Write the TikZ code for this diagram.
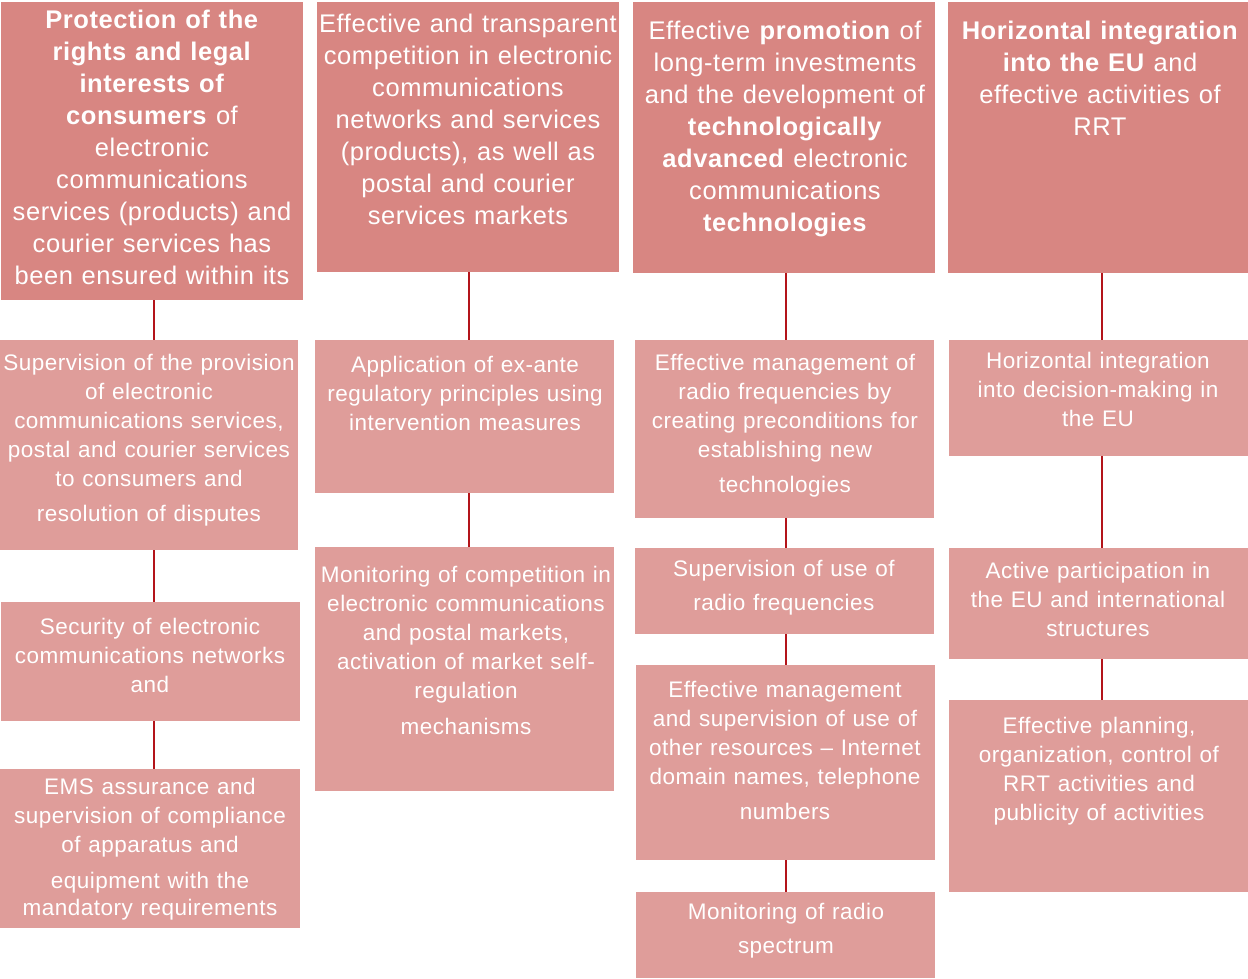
\documentclass[tikz,border=0pt]{standalone}
\usepackage{fontspec}
\setmainfont[LetterSpace=2.2,WordSpace=1.15]{Liberation Sans}
\definecolor{topfill}{HTML}{D88682}
\definecolor{subfill}{HTML}{DF9D9A}
\definecolor{linkred}{HTML}{B3141A}
\begin{document}
\begin{tikzpicture}[x=1pt,y=-1pt,
  box/.style={rectangle,inner sep=0pt,outer sep=0pt,anchor=north west,draw=none},
  topbox/.style={box,fill=topfill},
  subbox/.style={box,fill=subfill},
  toptext/.style={anchor=north,inner sep=0pt,align=center,text=white,font=\fontsize{25.5pt}{32pt}\selectfont},
  subtext/.style={anchor=north,inner sep=0pt,align=center,text=white,font=\fontsize{22.5pt}{29pt}\selectfont},
  link/.style={draw=linkred,line width=2.2pt}]
\useasboundingbox (0,0) rectangle (1248,979);
% line positions
\coordinate (l1) at (154,0);
\coordinate (l2) at (469,0);
\coordinate (l3) at (786,0);
\coordinate (l4) at (1102,0);
% boxes
\node[topbox,minimum width=302pt,minimum height=298pt] (a1) at (1,2) {};
\node[topbox,minimum width=302pt,minimum height=270pt] (a2) at (317,2) {};
\node[topbox,minimum width=302pt,minimum height=271pt] (a3) at (633,2) {};
\node[topbox,minimum width=300pt,minimum height=271pt] (a4) at (948,2) {};
\node[subbox,minimum width=298pt,minimum height=210pt] (b1) at (0,340) {};
\node[subbox,minimum width=299pt,minimum height=119pt] (b2) at (1,602) {};
\node[subbox,minimum width=300pt,minimum height=159pt] (b3) at (0,769) {};
\node[subbox,minimum width=299pt,minimum height=153pt] (c1) at (315,340) {};
\node[subbox,minimum width=299pt,minimum height=244pt] (c2) at (315,547) {};
\node[subbox,minimum width=299pt,minimum height=178pt] (d1) at (635,340) {};
\node[subbox,minimum width=299pt,minimum height=86pt] (d2) at (635,548) {};
\node[subbox,minimum width=299pt,minimum height=195pt] (d3) at (636,665) {};
\node[subbox,minimum width=299pt,minimum height=86pt] (d4) at (636,892) {};
\node[subbox,minimum width=299pt,minimum height=116pt] (e1) at (949,340) {};
\node[subbox,minimum width=299pt,minimum height=111pt] (e2) at (949,548) {};
\node[subbox,minimum width=299pt,minimum height=192pt] (e3) at (949,700) {};
% connectors
\draw[link] (a1.south -| l1) -- (b1.north -| l1);
\draw[link] (b1.south -| l1) -- (b2.north -| l1);
\draw[link] (b2.south -| l1) -- (b3.north -| l1);
\draw[link] (a2.south -| l2) -- (c1.north -| l2);
\draw[link] (c1.south -| l2) -- (c2.north -| l2);
\draw[link] (a3.south -| l3) -- (d1.north -| l3);
\draw[link] (d1.south -| l3) -- (d2.north -| l3);
\draw[link] (d2.south -| l3) -- (d3.north -| l3);
\draw[link] (d3.south -| l3) -- (d4.north -| l3);
\draw[link] (a4.south -| l4) -- (e1.north -| l4);
\draw[link] (e1.south -| l4) -- (e2.north -| l4);
\draw[link] (e2.south -| l4) -- (e3.north -| l4);
% texts
\node[toptext] (ta1) at (152,10) {\textbf{Protection of the}\\\textbf{rights and legal}\\\textbf{interests of}\\\textbf{consumers} of\\electronic\\communications\\services (products) and\\courier services has\\been ensured within its};
\node[toptext] (ta2) at (468,14) {Effective and transparent\\competition in electronic\\communications\\networks and services\\(products), as well as\\postal and courier\\services markets};
\node[toptext] (ta3) at (785,21) {Effective \textbf{promotion} of\\long-term investments\\and the development of\\\textbf{technologically}\\\textbf{advanced} electronic\\communications\\\textbf{technologies}};
\node[toptext] (ta4) at (1100,21) {\textbf{Horizontal integration}\\\textbf{into the EU} and\\effective activities of\\RRT};
\node[subtext] (tb1) at (149,354) {Supervision of the provision\\of electronic\\communications services,\\postal and courier services\\to consumers and\\[6pt]resolution of disputes};
\node[subtext] (tb2) at (150,618) {Security of electronic\\communications networks\\and};
\node[subtext] (tb3) at (150,778) {EMS assurance and\\supervision of compliance\\of apparatus and\\[7pt]equipment with the\\[-2pt]mandatory requirements};
\node[subtext] (tc1) at (465,356) {Application of ex-ante\\regulatory principles using\\intervention measures};
\node[subtext] (tc2) at (466,566) {Monitoring of competition in\\electronic communications\\and postal markets,\\activation of market self-\\regulation\\[7pt]mechanisms};
\node[subtext] (td1) at (785,354) {Effective management of\\radio frequencies by\\creating preconditions for\\establishing new\\[6pt]technologies};
\node[subtext] (td2) at (784,560) {Supervision of use of\\[5pt]radio frequencies};
\node[subtext] (td3) at (785,681) {Effective management\\and supervision of use of\\other resources – Internet\\domain names, telephone\\[6pt]numbers};
\node[subtext] (td4) at (786,903) {Monitoring of radio\\[5pt]spectrum};
\node[subtext] (te1) at (1098,352) {Horizontal integration\\into decision-making in\\the EU};
\node[subtext] (te2) at (1098,562) {Active participation in\\the EU and international\\structures};
\node[subtext] (te3) at (1099,717) {Effective planning,\\organization, control of\\RRT activities and\\publicity of activities};
\end{tikzpicture}
\end{document}
